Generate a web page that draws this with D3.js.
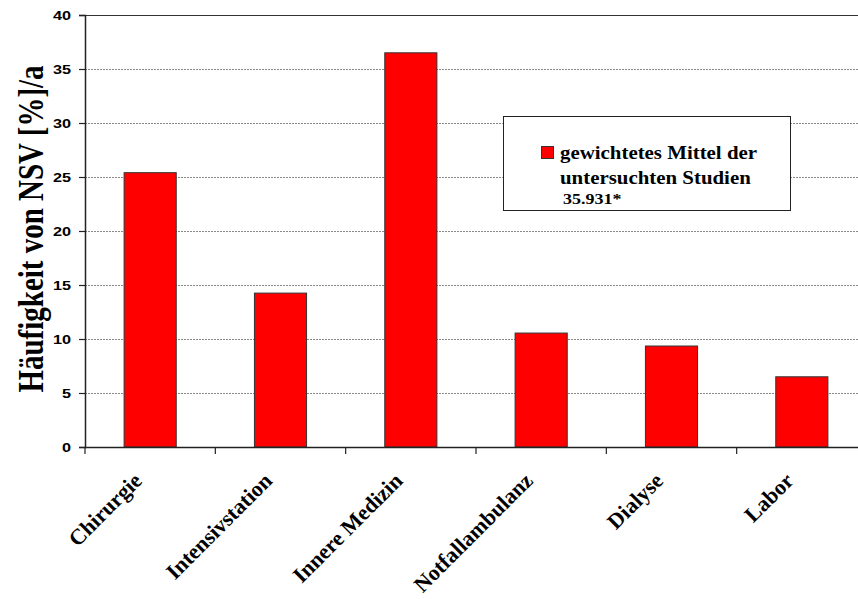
<!DOCTYPE html>
<html><head><meta charset="utf-8">
<script src="https://cdn.jsdelivr.net/npm/d3@7"></script>
<style>body{margin:0;background:#fff}svg{display:block}</style>
</head><body><svg id="c" width="858" height="599"></svg>
<script>
const categories = ["Chirurgie","Intensivstation","Innere Medizin","Notfallambulanz","Dialyse","Labor"];
const values = [25.4, 14.25, 36.5, 10.55, 9.35, 6.5];
const yTicks = [0,5,10,15,20,25,30,35,40];
const legendLines = ["gewichtetes Mittel der","untersuchten Studien"];
const legendNote = "35.931*";
const yTitle = "Häufigkeit von NSV [%]/a";

const serif = "Liberation Serif, Times New Roman, serif";
const sans = "Liberation Sans, Arial, sans-serif";
const svg = d3.select("#c");
const L = 85, T = 15, B = 447, R = 867;
const x = d3.scaleBand().domain(categories).range([L, R]).paddingInner(0.6).paddingOuter(0.3);
const xb = d3.scaleBand().domain(categories).range([L, R]);
const y = d3.scaleLinear().domain([0,40]).range([B, T]);

// gridlines
svg.append("g").selectAll("line").data(yTicks.filter(d=>d>0)).join("line")
  .attr("x1", L).attr("x2", R).attr("y1", d=>y(d)+0.5).attr("y2", d=>y(d)+0.5)
  .attr("stroke", d=>d===40?"#333":"#888").attr("stroke-width",1)
  .attr("stroke-dasharray", d=>d===40?null:"2,1");

// bars
svg.append("g").selectAll("rect").data(values).join("rect")
  .attr("x", (d,i)=>x(categories[i])).attr("width", x.bandwidth())
  .attr("y", d=>y(d)).attr("height", d=>B-y(d))
  .attr("fill","#ff0000").attr("stroke","#333").attr("stroke-width",1);

// y axis
const ya = d3.axisLeft(y).tickValues(yTicks).tickSize(6).tickFormat("");
const gy = svg.append("g").attr("transform",`translate(${L},0)`).call(ya);
gy.select(".domain").attr("stroke","#222").attr("stroke-width",1.5);
gy.selectAll(".tick line").attr("stroke","#222").attr("stroke-width",1.2);
svg.append("g").selectAll("text").data(yTicks).join("text")
  .attr("transform", d=>`translate(71,${y(d)+5}) scale(1.25,1)`)
  .attr("text-anchor","end").attr("font-family",sans)
  .attr("font-weight","bold").attr("font-size","13px").attr("fill","#000").text(d=>d);

// x axis
svg.append("line").attr("x1",L).attr("x2",R).attr("y1",B+0.5).attr("y2",B+0.5)
  .attr("stroke","#222").attr("stroke-width",1.5);
svg.append("g").selectAll("line").data(categories).join("line")
  .attr("x1", d=>xb(d)).attr("x2", d=>xb(d)).attr("y1",B).attr("y2",B+7)
  .attr("stroke","#222").attr("stroke-width",1.2);

// x labels
svg.append("g").selectAll("text").data(categories).join("text")
  .attr("transform", d=>`translate(${x(d)+x.bandwidth()/2-7},${B+35}) rotate(-45)`)
  .attr("text-anchor","end")
  .attr("font-family",serif).attr("font-weight","bold")
  .attr("font-size","22px").attr("fill","#000").text(d=>d);

// y title
svg.append("text").attr("transform",`translate(43,${(60+398)/2}) scale(1.25,1) rotate(-90)`)
  .attr("text-anchor","middle")
  .attr("font-family",serif).attr("font-weight","bold")
  .attr("font-size","29px").attr("fill","#000").text(yTitle);

// legend
const lg = svg.append("g");
lg.append("rect").attr("x",503.5).attr("y",116.5).attr("width",287).attr("height",94)
  .attr("fill","#fff").attr("stroke","#222").attr("stroke-width",1);
lg.append("rect").attr("x",541.5).attr("y",146.5).attr("width",12).attr("height",12)
  .attr("fill","#ff0000").attr("stroke","#333");
lg.selectAll("text.l").data(legendLines).join("text").attr("class","l")
  .attr("transform",(d,i)=>`translate(560,${159+i*25}) scale(1.16,1)`)
  .attr("font-family",serif).attr("font-weight","bold")
  .attr("font-size","18px").attr("fill","#000").text(d=>d);
lg.append("text").attr("transform","translate(563,204) scale(1.16,1)")
  .attr("font-family",serif).attr("font-weight","bold")
  .attr("font-size","15.5px").attr("fill","#000").text(legendNote);
</script></body></html>
